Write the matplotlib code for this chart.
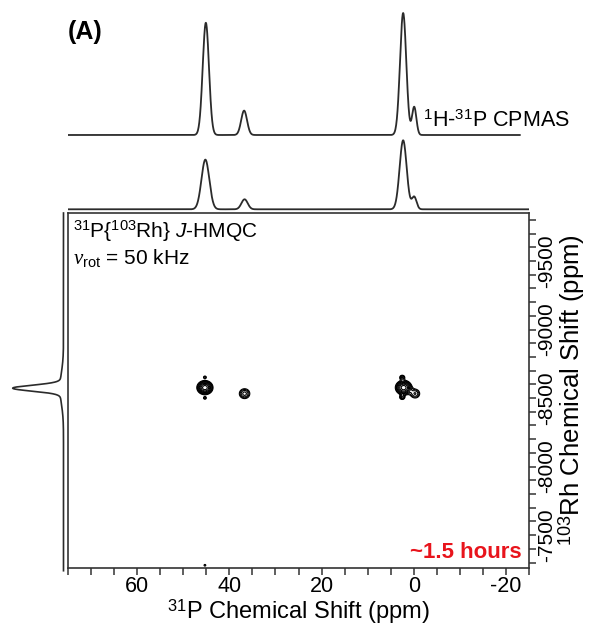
import numpy as np
import matplotlib
matplotlib.use("Agg")
import matplotlib.pyplot as plt
from matplotlib.ticker import MultipleLocator

plt.rcParams['font.family'] = ['Liberation Sans', 'DejaVu Sans']
plt.rcParams['mathtext.fontset'] = 'custom'
plt.rcParams['mathtext.rm'] = 'Liberation Sans'
plt.rcParams['mathtext.it'] = 'Liberation Serif:italic'
plt.rcParams['mathtext.sf'] = 'Liberation Sans:italic'
plt.rcParams['mathtext.bf'] = 'Liberation Sans:bold'
plt.rcParams['axes.unicode_minus'] = False

# 1H-31P CPMAS trace : shift (ppm), relative height, fwhm (ppm)
cp_shift = [45.1, 36.8, 2.3, -0.1]
cp_height = [0.92, 0.20, 1.00, 0.23]
cp_fwhm = [1.6, 1.5, 1.6, 1.1]

# 31P projection of the J-HMQC
p_proj_shift = [45.2, 36.7, 2.3, -0.1]
p_proj_height = [0.72, 0.145, 1.00, 0.18]
p_proj_fwhm = [2.0, 1.6, 1.8, 1.2]

# 103Rh projection (sharp peak + broad foot)
rh_proj_shift = [-8572, -8572]
rh_proj_height = [0.93, 0.07]
rh_proj_fwhm = [50, 260]

# 2D cross peaks (31P ppm, 103Rh ppm, amplitude, widths)
xpk_p = [45.3, 36.7, 2.2, -0.3, 45.3, 45.3, 2.5, 2.5, 45.3]
xpk_rh = [-8576, -8532, -8576, -8532, -8652, -8500, -8651, -8505, -7280]
xpk_amp = [1.0, 0.33, 1.0, 0.30, 0.2, 0.2, 0.3, 0.3, 0.18]
xpk_wp = [0.88, 0.85, 0.90, 0.78, 0.30, 0.30, 0.40, 0.40, 0.25]
xpk_wrh = [26, 27, 27, 25, 9, 9, 12, 12, 8]

P_LIM = (75, -25)
RH_LIM = (-7260, -9850)
W, H = 590, 625
LINE = '#2b2b2b'


def fig_rect(x0, y0, x1, y1):
    # pixel box (top-left origin) -> figure fraction
    return [x0 / W, 1 - y1 / H, (x1 - x0) / W, (y1 - y0) / H]


def gauss_sum(axis, shifts, heights, fwhm):
    out = np.zeros_like(axis)
    for c, h, w in zip(shifts, heights, fwhm):
        s = w / 2.3548
        out += h * np.exp(-0.5 * ((axis - c) / s) ** 2)
    return out


fig = plt.figure(figsize=(W / 100, H / 100), dpi=100)

# --- 2D map
ax = fig.add_axes(fig_rect(68, 213, 529, 568))
pg = np.linspace(P_LIM[1], P_LIM[0], 1200)
rg = np.linspace(RH_LIM[1], RH_LIM[0], 1200)
PP, RR = np.meshgrid(pg, rg)
Z = np.zeros_like(PP)
for p, r, a, wp, wr in zip(xpk_p, xpk_rh, xpk_amp, xpk_wp, xpk_wrh):
    Z += a * np.exp(-0.5 * ((PP - p) / wp) ** 2 - 0.5 * ((RR - r) / wr) ** 2)
levels = 0.135 * 1.3 ** np.arange(8)
ax.contour(PP, RR, Z, levels=levels, colors='black', linewidths=0.8)
ax.set_xlim(*P_LIM)
ax.set_ylim(*RH_LIM)

for s in ax.spines.values():
    s.set_linewidth(1.2)
    s.set_color('#333333')
ax.yaxis.tick_right()
ax.yaxis.set_label_position('right')
ax.xaxis.set_major_locator(MultipleLocator(20))
ax.xaxis.set_minor_locator(MultipleLocator(5))
ax.yaxis.set_major_locator(MultipleLocator(500))
ax.yaxis.set_minor_locator(MultipleLocator(100))
ax.tick_params(axis='x', which='both', direction='out', length=5, width=1.1,
               color='#333333', labelsize=15.5, pad=1)
ax.tick_params(axis='y', which='both', direction='out', length=5, width=1.1,
               color='#333333', labelsize=15, pad=1, left=False, right=True)
plt.setp(ax.get_yticklabels(), rotation=90, va='center')
ax.set_xlabel(r'$^{31}$P Chemical Shift (ppm)', fontsize=17, labelpad=0)
ax.set_ylabel(r'$^{103}$Rh Chemical Shift (ppm)', fontsize=18.5, labelpad=0)

ax.text(0.01, 0.985, r'$^{31}$P{$^{103}$Rh} $\mathsf{J}$-HMQC',
        transform=ax.transAxes, fontsize=15, va='top', ha='left')
ax.text(0.01, 0.905, r'$\mathit{v}_{\mathrm{rot}}$ = 50 kHz',
        transform=ax.transAxes, fontsize=15, va='top', ha='left')
ax.text(0.985, 0.015, '~1.5 hours', transform=ax.transAxes, fontsize=16,
        fontweight='bold', color='#e8141c', ha='right', va='bottom')

# --- 1D traces on top (y in pixel-like units, 0 = box top)
axt = fig.add_axes(fig_rect(68, 0, 529, 213))
axt.set_xlim(*P_LIM)
axt.set_ylim(0, 213)
axt.axis('off')
x_cp = np.linspace(75, -23, 2000)
axt.plot(x_cp, 78 + 122 * gauss_sum(x_cp, cp_shift, cp_height, cp_fwhm),
         color=LINE, lw=1.3)
x_pr = np.linspace(75, -25, 2000)
axt.plot(x_pr, 3.7 + 69 * gauss_sum(x_pr, p_proj_shift, p_proj_height, p_proj_fwhm),
         color=LINE, lw=1.3)

# --- 103Rh projection on the left
axl = fig.add_axes(fig_rect(0, 213, 68, 568))
axl.set_xlim(1.25, -0.0886)
axl.set_ylim(*RH_LIM)
axl.axis('off')
y_rh = np.linspace(-9850, -7240, 2000)
axl.plot(gauss_sum(y_rh, rh_proj_shift, rh_proj_height, rh_proj_fwhm), y_rh,
         color=LINE, lw=1.2, clip_on=False)

fig.text(68 / W, 1 - 32 / H, '(A)', fontsize=18, fontweight='bold', va='center')
fig.text(423 / W, 1 - 121 / H, r'$^{1}$H-$^{31}$P CPMAS', fontsize=15.5, va='center')

fig.savefig('out.png', dpi=100)
